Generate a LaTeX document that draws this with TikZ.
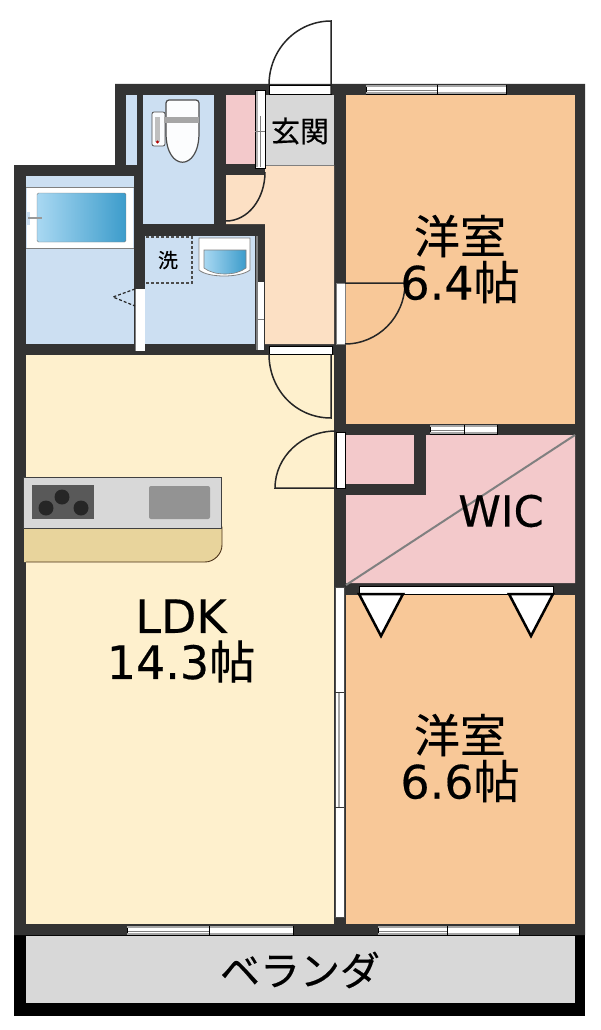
\documentclass[tikz,border=0pt]{standalone}
\usepackage{fontspec}
\setmainfont[FakeBold=0.35]{DejaVu Sans}
\newfontfamily\jp[FakeBold=0.35]{Noto Sans CJK JP}
\usetikzlibrary{calc}
\definecolor{wall}{HTML}{333333}
\definecolor{bluef}{HTML}{CCDFF2}
\definecolor{pinkf}{HTML}{F3C9CB}
\definecolor{orangef}{HTML}{F8C898}
\definecolor{peachf}{HTML}{FCE0C4}
\definecolor{creamf}{HTML}{FEF0CD}
\definecolor{grayf}{HTML}{D8D8D8}
\definecolor{counterf}{HTML}{E8D49C}
\definecolor{tubl}{HTML}{A9D8F2}
\definecolor{tubd}{HTML}{3C9CCB}
\tikzset{
  x=1pt,y=-1pt,
  roomlabel/.style={font=\fontsize{46}{46}\selectfont,text=black,align=center,inner sep=0pt},
  smalllabel/.style={font=\jp\fontsize{29}{30}\selectfont,text=black,inner sep=0pt},
  doorpanel/.style={fill=white,draw=black,line width=.9pt},
  swing/.style={draw=black!85,line width=1.5pt},
}
\begin{document}
\begin{tikzpicture}
\useasboundingbox (0,0) rectangle (600,1030);
\fill[white] (0,0) rectangle (600,1030);
% verandah
\fill[black] (14,930) rectangle (585,1016);
\fill[grayf] (26,936) rectangle (575,1003);
% wall mass
\fill[wall] (115,84) -- (585,84) -- (585,935) -- (14,935) -- (14,165) -- (115,165) -- cycle;
% rooms
\fill[bluef] (126,95) rectangle (137,165);
\fill[bluef] (143,95) rectangle (214,224);
\fill[pinkf] (226,95) rectangle (255,164);
\fill[grayf] (265,95) rectangle (334,165);
\fill[peachf] (226,175) -- (265,175) -- (265,165) -- (334,165) -- (334,344) -- (265,344) -- (265,224) -- (226,224) -- cycle;
\fill[bluef] (26,176) rectangle (134,344);
\fill[bluef] (145,236) rectangle (255,344);
\fill[creamf] (26,355) rectangle (334,924);
\fill[orangef] (346,95) rectangle (575,424);
\fill[pinkf] (346,435) rectangle (414,484);
\fill[pinkf] (346,495) -- (426,495) -- (426,435) -- (575,435) -- (575,583) -- (346,583) -- cycle;
\fill[orangef] (346,595) rectangle (575,924);
\draw[gray,line width=.8pt] (265,165.5) -- (334,165.5);
% WIC diagonal
\draw[gray,line width=2pt] (575,435) -- (346,585);
% windows
\foreach \a/\b/\c/\yy/\h in {366/437/506/85/9, 430/464/497/425/9, 127/209/293/926/9, 378/447/519/926/9}{
  \fill[white] (\a,\yy) rectangle (\c,\yy+\h);
  \draw[black,line width=.8pt] (\a,\yy) rectangle (\c,\yy+\h);
  \fill[gray!70] (\a,\yy) rectangle (\c,\yy+1.6);
  \fill[gray!70] (\a,\yy+\h-1.6) rectangle (\c,\yy+\h);
  \draw[gray,line width=1.3pt] (\a+1,\yy+\h/2+.8) -- (\b,\yy+\h/2+.8);
  \draw[black,line width=.9pt] (\b,\yy) -- (\b,\yy+\h);
}
% entrance door
\draw[doorpanel] (269,85) rectangle (331,94);
\draw[swing] (331,94) -- (331,21) .. controls (297,21) and (269,49) .. (269,85);
% genkan sliding door
\draw[fill=white,draw=black,line width=.7pt] (255,90) rectangle (265,168);
\fill[gray!60] (256,91) rectangle (258,167);
\draw[gray,line width=.8pt] (260,116) -- (260,167);
\draw[gray,line width=.8pt] (255,131) -- (265,131);
% toilet door swing
\draw[swing] (265,172) .. controls (265,199) and (248,221) .. (226,221);
% bath door
\fill[white] (135,289) rectangle (145,351);
\draw[gray,line width=.6pt] (135,289) -- (135,351);
\draw[black!85,line width=1.2pt,dash pattern=on 3pt off 2pt] (135,289) -- (113,297) -- (135,306);
% wash sliding door
\fill[white] (256,282) rectangle (264,350);
\draw[gray,line width=1.5pt] (257,236) -- (257,350);
\draw[gray,line width=.8pt] (256,319) -- (264,319);
% hall to LDK door
\draw[doorpanel] (269,346) rectangle (332,354);
\draw[swing] (331,354) -- (331,418) .. controls (296,418) and (269,390) .. (269,354);
% 6.4 door
\fill[white] (336,283) rectangle (345,344);
\draw[gray,line width=.6pt] (336,283) rectangle (345,344);
\draw[swing] (345,283) -- (405,283) .. controls (405,317) and (378,344) .. (345,344);
% closet door in LDK
\draw[doorpanel] (336,432) rectangle (345,488);
\draw[swing] (336,488) -- (275,488) .. controls (275,457) and (302,431) .. (336,431);
% bath tub
\fill[white] (27,188) rectangle (133,248);
\draw[gray,line width=.8pt] (26,187) -- (134,187);
\draw[gray,line width=.8pt] (26,248) -- (134,248);
\shade[left color=tubl,right color=tubd,rounded corners=1.5pt,draw=gray] (37,193) rectangle (126,242);
\fill[bluef] (26,212) rectangle (30,225);
\draw[gray!80,line width=2.5pt] (28,218) -- (42,218);
% wash basin
\draw[fill=white,draw=gray,line width=.8pt] (199,238) -- (250,238) -- (250,270) .. controls (240,278) and (208,278) .. (199,270) -- cycle;
\shade[left color=tubl,right color=tubd,draw=gray,line width=.6pt] (204,250) -- (246,250) -- (246,268) .. controls (236,276) and (214,276) .. (204,268) -- cycle;
\draw[black!70,line width=1.2pt,dash pattern=on 3pt off 2pt] (146,237) -- (192,237) -- (192,283) -- (146,283);
\node[font=\jp\fontsize{20}{20}\selectfont,inner sep=0pt] (wash) at (168,260) {洗};
% toilet
\draw[fill=white!90!bluef,draw=black!70,line width=.8pt,rounded corners=2pt] (152,112) rectangle (165,146);
\fill[gray!50] (155,117) rectangle (160,142);
\fill[red!70!black] (157.5,142) circle (1.6);
\draw[fill=white!94!bluef,draw=black!70,line width=1.2pt,rounded corners=3pt] (166,100) -- (199,100) -- (199,130)  .. controls (199,172) and (166,172) .. (166,130) -- cycle;
\fill[gray!70] (164,117) rectangle (199,123);
% kitchen
\fill[counterf] (24,527) -- (222,527) -- (222,545) .. controls (222,554) and (214,562) .. (205,562) -- (24,562) -- cycle;
\draw[black!60!brown,line width=.9pt] (26,527) -- (222,527) -- (222,545) .. controls (222,554) and (214,562) .. (205,562) -- (26,562);
\fill[grayf] (23,477) rectangle (221,528);
\draw[black!75,line width=1pt] (23,477) rectangle (221,528);
\fill[black!65] (32,485) rectangle (94,519);
\foreach \cx/\cy in {46/508,62/497,81/508}{\fill[black!85] (\cx,\cy) circle[radius=7.5];}
\fill[gray!85,rounded corners=2pt] (149,486) rectangle (210,519);
% labels
\node[smalllabel] (genkan) at (300,131) {玄関};
\node[roomlabel] (r1) at (460,259) {{\jp 洋室}\\6.4{\jp 帖}};
\node[roomlabel] (r2) at (460,758) {{\jp 洋室}\\6.6{\jp 帖}};
\node[roomlabel] (ldk) at (181,641) {LDK\\14.3{\jp 帖}};
\node[font=\fontsize{43}{43}\selectfont,inner sep=0pt] (wic) at (501,511) {WIC};
\node[font=\jp\fontsize{40}{40}\selectfont,inner sep=0pt] (ver) at (300,970) {ベランダ};
% closet doors and triangles
\fill[white] (359,586) rectangle (553,594);
\draw[black,line width=.8pt] (359,586) rectangle (553,594);
\draw[doorpanel,line width=2.5pt,line join=miter] (359,594) -- (403,594) -- (381,636) -- cycle;
\draw[doorpanel,line width=2.5pt,line join=miter] (509,594) -- (553,594) -- (531,636) -- cycle;
% long sliding door
\draw[fill=white,draw=black!70,line width=.8pt] (335,587) rectangle (344,917);
\draw[gray!70,line width=2pt] (339,692) -- (339,807);
\draw[black!80,line width=.9pt] (335,692) -- (344,692);
\draw[black!80,line width=.9pt] (335,807) -- (344,807);
\end{tikzpicture}
\end{document}
